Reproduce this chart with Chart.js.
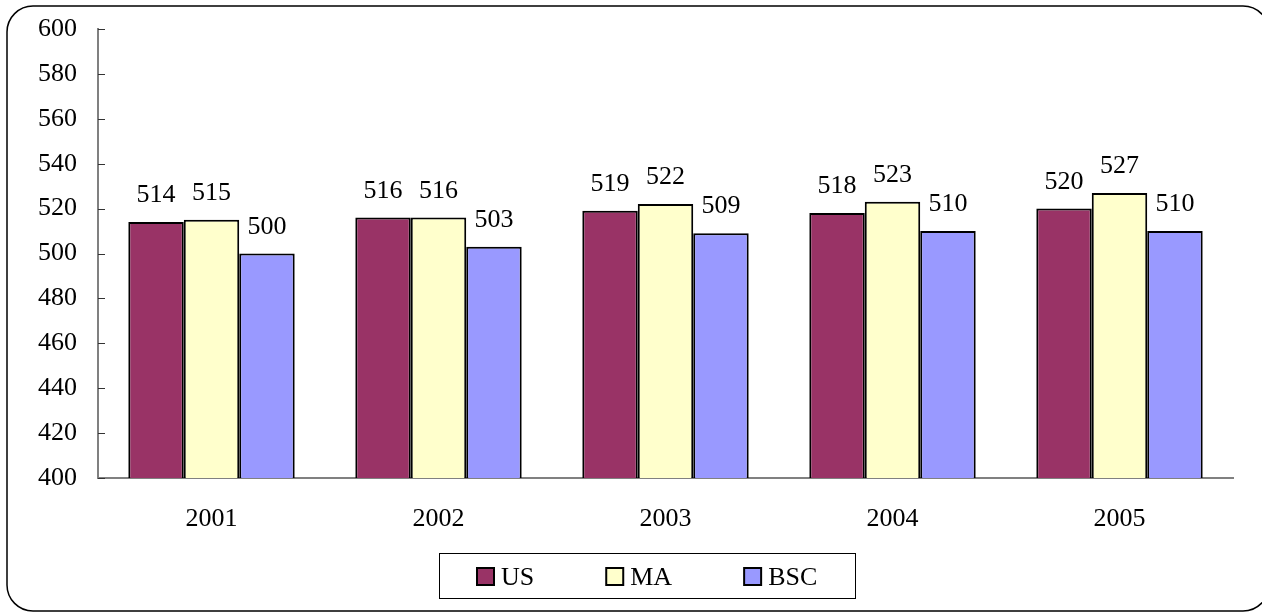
<!DOCTYPE html>
<html>
<head>
<meta charset="utf-8">
<script src="https://cdn.jsdelivr.net/npm/chart.js@4.4.1/dist/chart.umd.min.js"></script>
<style>
	html, body { margin: 0; padding: 0; background: #fff; }
	#wrap { width: 1262px; height: 613px; }
</style>
</head>
<body>
<div id="wrap"><canvas id="chart" width="1262" height="613"></canvas></div>
<script>
const years = ['2001', '2002', '2003', '2004', '2005'];
const usScores = [514, 516, 519, 518, 520];
const maScores = [515, 516, 522, 523, 527];
const bscScores = [500, 503, 509, 510, 510];
const yTicks = [400, 420, 440, 460, 480, 500, 520, 540, 560, 580, 600];

const FONT = '"Liberation Serif", "Times New Roman", serif';

const barStyle = {
	borderColor: '#000',
	borderWidth: 2,
	borderSkipped: false,
	barPercentage: 1,
	categoryPercentage: 0.733
};

// white page plus the rounded frame round the whole chart
const framePlugin = {
	id: 'frame',
	beforeDraw(chart) {
		const ctx = chart.ctx;
		ctx.save();
		ctx.fillStyle = '#fff';
		ctx.fillRect(0, 0, chart.width, chart.height);
		ctx.restore();
	},
	afterDraw(chart) {
		const ctx = chart.ctx;
		ctx.save();
		ctx.strokeStyle = '#000';
		ctx.lineWidth = 1.5;
		ctx.beginPath();
		ctx.roundRect(7, 6, 1262, 605, 26);
		ctx.stroke();
		ctx.restore();
	}
};

// small tick marks on the inside of the y axis
const innerTicks = {
	id: 'innerTicks',
	afterDatasetsDraw(chart) {
		const ctx = chart.ctx;
		const y = chart.scales.y;
		const left = chart.chartArea.left;
		ctx.save();
		ctx.strokeStyle = '#333';
		ctx.lineWidth = 1;
		y.ticks.forEach(t => {
			const py = Math.round(y.getPixelForValue(t.value)) + 0.5;
			ctx.beginPath();
			ctx.moveTo(left, py);
			ctx.lineTo(left + 7, py);
			ctx.stroke();
		});
		ctx.restore();
	}
};

// value on top of each bar
const valueLabels = {
	id: 'valueLabels',
	afterDatasetsDraw(chart) {
		const ctx = chart.ctx;
		ctx.save();
		ctx.font = '26px ' + FONT;
		ctx.fillStyle = '#000';
		ctx.textAlign = 'center';
		ctx.textBaseline = 'alphabetic';
		chart.data.datasets.forEach((ds, i) => {
			chart.getDatasetMeta(i).data.forEach((bar, j) => {
				ctx.fillText(String(ds.data[j]), bar.x, bar.y - 20);
			});
		});
		ctx.restore();
	}
};

// boxed legend under the axis
const boxLegend = {
	id: 'boxLegend',
	afterDraw(chart) {
		const ctx = chart.ctx;
		const box = { x: 439.5, y: 553.5, w: 416, h: 45 };
		ctx.save();
		ctx.strokeStyle = '#000';
		ctx.lineWidth = 1;
		ctx.strokeRect(box.x, box.y, box.w, box.h);
		ctx.font = '26px ' + FONT;
		const sq = 17, gapText = 7, gapItem = 72;
		const items = chart.data.datasets.map(ds => ({
			label: ds.label,
			color: ds.backgroundColor,
			w: ctx.measureText(ds.label).width
		}));
		let total = 0;
		items.forEach((it, i) => {
			total += sq + gapText + it.w + (i < items.length - 1 ? gapItem : 0);
		});
		let x = Math.round(box.x + (box.w - total) / 2);
		const sqTop = 568;
		items.forEach(it => {
			ctx.fillStyle = it.color;
			ctx.fillRect(x, sqTop, sq, sq);
			ctx.lineWidth = 2;
			ctx.strokeStyle = '#000';
			ctx.strokeRect(x, sqTop, sq, sq);
			ctx.fillStyle = '#000';
			ctx.textBaseline = 'alphabetic';
			ctx.textAlign = 'left';
			ctx.fillText(it.label, x + sq + gapText, 585);
			x += sq + gapText + it.w + gapItem;
		});
		ctx.restore();
	}
};

new Chart(document.getElementById('chart'), {
	type: 'bar',
	data: {
		labels: years,
		datasets: [
			Object.assign({ label: 'US', data: usScores, backgroundColor: '#993366' }, barStyle),
			Object.assign({ label: 'MA', data: maScores, backgroundColor: '#FFFFCC' }, barStyle),
			Object.assign({ label: 'BSC', data: bscScores, backgroundColor: '#9999FF' }, barStyle)
		]
	},
	options: {
		responsive: false,
		animation: false,
		layout: { padding: { left: 0, right: 29, top: 29, bottom: 0 } },
		plugins: {
			legend: { display: false },
			tooltip: { enabled: false }
		},
		scales: {
			x: {
				grid: { display: false, drawTicks: false },
				border: { display: true, color: '#808080', width: 2 },
				ticks: { color: '#000', font: { family: FONT, size: 26 }, padding: 26 },
				afterFit: scale => {
					scale.height = 135;
					scale.paddingLeft = 0;
					scale.paddingRight = 0;
				}
			},
			y: {
				min: 400,
				max: 600,
				afterBuildTicks: scale => { scale.ticks = yTicks.map(v => ({ value: v })); },
				grid: { display: false, drawTicks: false },
				border: { display: true, color: '#808080', width: 2 },
				ticks: { color: '#000', font: { family: FONT, size: 26 }, padding: 21 },
				afterFit: scale => {
					scale.width = 98;
					scale.paddingTop = 0;
					scale.paddingBottom = 0;
				}
			}
		}
	},
	plugins: [framePlugin, innerTicks, valueLabels, boxLegend]
});
</script>
</body>
</html>
